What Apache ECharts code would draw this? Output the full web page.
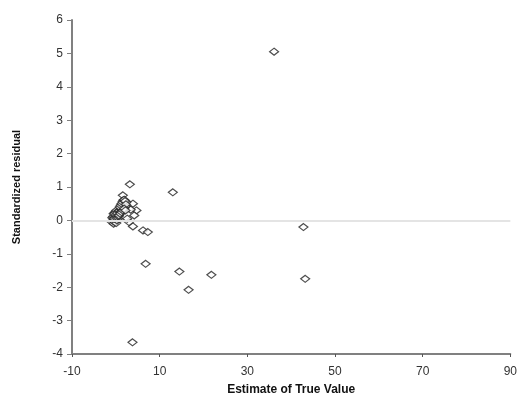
<!DOCTYPE html>
<html><head><meta charset="utf-8">
<script src="https://cdn.jsdelivr.net/npm/echarts@6/dist/echarts.min.js"></script>
<style>html,body{margin:0;padding:0;background:#fff}#c{width:520px;height:401px}</style>
</head><body><div id="c"></div>
<script>
const xTicks = [-10, 10, 30, 50, 70, 90];
const yTicks = [-4, -3, -2, -1, 0, 1, 2, 3, 4, 5, 6];
const estimates = [36.1, 13.0, 3.2, 42.8, 43.2, 21.8, 6.8, 14.5, 16.6, 3.8,
  1.6, 3.9, 4.7, 3.4, 3.9, 6.2, 7.3, 3.0, 2.6, 4.2,
  -0.9, -0.7, -0.5, -0.3, -0.1, 0.1, 0.3, 0.5, -0.8, -0.6, -0.4, -0.2, 0.0, 0.2, 0.4, 0.6,
  -0.5, -0.3, -0.1, 0.1, 0.3, 0.6, 0.8, 1.0, 1.2, 1.4, 1.6, 1.8, 2.0, 2.2, 2.4,
  0.9, 1.1, 1.3, 1.5, 1.7, 1.9, 2.1, 2.3, 0.7, 1.0, 1.3, 1.6, 1.9, 2.2];
const residuals = [5.05, 0.84, 1.08, -0.2, -1.75, -1.63, -1.3, -1.53, -2.08, -3.65,
  0.75, 0.5, 0.3, 0.32, -0.18, -0.3, -0.35, -0.05, 0.05, 0.15,
  -0.05, 0.0, -0.1, -0.05, 0.02, -0.08, 0.0, 0.05, 0.08, 0.12, 0.05, 0.1, 0.15, 0.1, 0.18, 0.12,
  0.2, 0.22, 0.25, 0.3, 0.22, 0.28, 0.3, 0.25, 0.35, 0.32, 0.4, 0.45, 0.5, 0.42, 0.55,
  0.4, 0.45, 0.5, 0.55, 0.6, 0.62, 0.58, 0.48, 0.15, 0.2, 0.25, 0.3, 0.35, 0.3];
const data = estimates.map((x, i) => [x, residuals[i]]);
const chart = echarts.init(document.getElementById('c'), null, {renderer: 'canvas'});
chart.setOption({
  animation: false,
  backgroundColor: '#fff',
  grid: {left: 72, right: 8, top: 20, bottom: 46, containLabel: false},
  xAxis: {
    type: 'value', min: -10, max: 90,
    name: 'Estimate of True Value', nameLocation: 'middle', nameGap: 30,
    nameTextStyle: {fontFamily: 'Liberation Sans', fontWeight: 'bold', fontSize: 12, color: '#111'},
    axisLine: {show: true, onZero: false, lineStyle: {color: '#808080', width: 2}},
    axisTick: {show: true, length: 3, customValues: xTicks, lineStyle: {color: '#555'}},
    axisLabel: {customValues: xTicks, margin: 12, fontFamily: 'Liberation Sans', fontSize: 12, color: '#333'},
    splitLine: {show: false}
  },
  yAxis: {
    type: 'value', min: -4, max: 6, interval: 1,
    name: 'Standardized residual', nameLocation: 'middle', nameGap: 50, nameRotate: 90,
    nameTextStyle: {fontFamily: 'Liberation Sans', fontWeight: 'bold', fontSize: 11, color: '#111'},
    axisLine: {show: true, onZero: false, lineStyle: {color: '#808080', width: 2}},
    axisTick: {show: true, length: 5, lineStyle: {color: '#808080'}},
    axisLabel: {margin: 9, fontFamily: 'Liberation Sans', fontSize: 12, color: '#333'},
    splitLine: {show: false}
  },
  series: [{
    type: 'scatter', data: data, symbol: 'diamond', symbolSize: [9, 7],
    itemStyle: {color: '#fff', borderColor: '#222', borderWidth: 1.2},
    markLine: {silent: true, symbol: 'none', label: {show: false},
      lineStyle: {color: '#e4e4e4', width: 2, type: 'solid'},
      data: [{yAxis: 0}]}
  }]
});
</script></body></html>
